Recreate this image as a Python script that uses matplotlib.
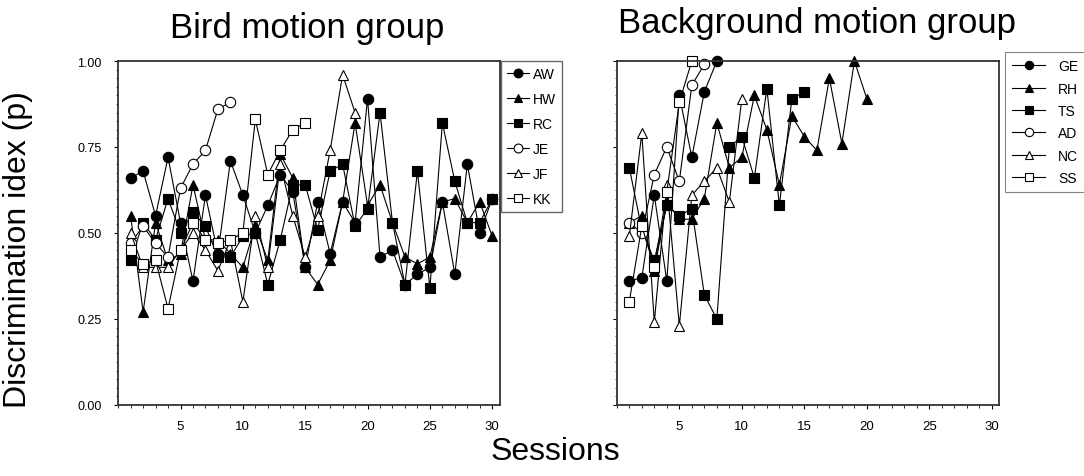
import matplotlib
matplotlib.use("Agg")
import matplotlib.pyplot as plt
from matplotlib.ticker import MultipleLocator

plt.rcParams['font.family'] = ['Liberation Sans', 'DejaVu Sans']

# Bird motion group (sessions 1..n)
aw = [0.66, 0.68, 0.55, 0.72, 0.53, 0.36, 0.61, 0.44, 0.71, 0.61, 0.50, 0.58, 0.67, 0.62, 0.40,
      0.59, 0.44, 0.59, 0.53, 0.89, 0.43, 0.45, 0.35, 0.38, 0.40, 0.59, 0.38, 0.70, 0.50, 0.60]
hw = [0.55, 0.27, 0.53, 0.42, 0.44, 0.64, 0.48, 0.48, 0.44, 0.40, 0.52, 0.42, 0.73, 0.66, 0.40,
      0.35, 0.42, 0.59, 0.82, 0.58, 0.64, 0.53, 0.43, 0.41, 0.43, 0.59, 0.60, 0.53, 0.59, 0.49]
rc = [0.42, 0.53, 0.48, 0.60, 0.50, 0.56, 0.52, 0.43, 0.43, 0.49, 0.50, 0.35, 0.48, 0.64, 0.64,
      0.51, 0.68, 0.70, 0.52, 0.57, 0.85, 0.53, 0.35, 0.68, 0.34, 0.82, 0.65, 0.53, 0.53, 0.60]
je = [0.47, 0.52, 0.47, 0.43, 0.63, 0.70, 0.74, 0.86, 0.88]
jf = [0.50, 0.40, 0.40, 0.40, 0.45, 0.50, 0.45, 0.39, 0.48, 0.30, 0.55, 0.40, 0.70, 0.55, 0.43,
      0.55, 0.74, 0.96, 0.85]
kk = [0.45, 0.41, 0.42, 0.28, 0.45, 0.53, 0.48, 0.47, 0.48, 0.50, 0.83, 0.67, 0.74, 0.80, 0.82]

# Background motion group
ge = [0.36, 0.37, 0.61, 0.36, 0.90, 0.72, 0.91, 1.00]
rh = [0.53, 0.55, 0.39, 0.59, 0.54, 0.54, 0.60, 0.82, 0.69, 0.72, 0.90, 0.80, 0.64, 0.84, 0.78,
      0.74, 0.95, 0.76, 1.00, 0.89]
ts = [0.69, 0.51, 0.42, 0.58, 0.55, 0.57, 0.32, 0.25, 0.75, 0.78, 0.66, 0.92, 0.58, 0.89, 0.91]
ad = [0.53, 0.50, 0.67, 0.75, 0.65, 0.93, 0.99]
nc = [0.49, 0.79, 0.24, 0.64, 0.23, 0.61, 0.65, 0.69, 0.59, 0.89]
ss = [0.30, 0.52, 0.40, 0.62, 0.88, 1.00]

y_ticks = [0.0, 0.25, 0.5, 0.75, 1.0]
y_ticklabels = ["0.00", "0.25", "0.50", "0.75", "1.00"]
x_ticks = [5, 10, 15, 20, 25, 30]

bird = [("AW", aw, "o", "black"), ("HW", hw, "^", "black"), ("RC", rc, "s", "black"),
        ("JE", je, "o", "white"), ("JF", jf, "^", "white"), ("KK", kk, "s", "white")]
back = [("GE", ge, "o", "black"), ("RH", rh, "^", "black"), ("TS", ts, "s", "black"),
        ("AD", ad, "o", "white"), ("NC", nc, "^", "white"), ("SS", ss, "s", "white")]

fig = plt.figure(figsize=(10.84, 4.77), dpi=100)
ax1 = fig.add_axes([0.109, 0.149, 0.352, 0.721])
ax2 = fig.add_axes([0.569, 0.149, 0.353, 0.721])


def draw(ax, groups, ylabels):
    for name, vals, mk, fc in groups:
        x = list(range(1, len(vals) + 1))
        ax.plot(x, vals, color="black", lw=0.8, marker=mk, markersize=7.5,
                markerfacecolor=fc, markeredgecolor="black", markeredgewidth=0.8,
                label=name, clip_on=False)
    ax.set_xlim(0, 30.6)
    ax.set_ylim(0, 1.0)
    ax.set_xticks(x_ticks)
    ax.xaxis.set_minor_locator(MultipleLocator(1))
    ax.set_yticks(y_ticks)
    ax.yaxis.set_minor_locator(MultipleLocator(0.025))
    ax.tick_params(axis="x", which="major", labelsize=9.5, length=3, width=0.8, pad=8)
    ax.tick_params(axis="x", which="minor", length=2, width=0.6)
    ax.tick_params(axis="y", which="major", labelsize=9, length=3, width=0.8, pad=9)
    ax.tick_params(axis="y", which="minor", length=1.5, width=0.5)
    if ylabels:
        ax.set_yticklabels(y_ticklabels)
    else:
        ax.set_yticklabels([])
    for sp in ax.spines.values():
        sp.set_color("#333333")
        sp.set_linewidth(1.3)


draw(ax1, bird, True)
draw(ax2, back, False)

leg1 = ax1.legend(loc="upper left", bbox_to_anchor=(1.004, 1.0), borderaxespad=0,
                  fancybox=False, edgecolor="#444444", fontsize=10, handlelength=1.6,
                  handletextpad=0.3, labelspacing=0.8, borderpad=0.4, markerscale=0.85)
leg1.get_frame().set_linewidth(1.0)
leg2 = ax2.legend(loc="upper left", bbox_to_anchor=(1.015, 1.025), borderaxespad=0,
                  fancybox=False, edgecolor="#666666", fontsize=10, handlelength=2.4,
                  handletextpad=0.9, labelspacing=0.6, borderpad=0.5, markerscale=0.8)
leg2.get_frame().set_linewidth(0.8)

fig.text(0.283, 0.920, "Bird motion group", fontsize=25, ha="center", va="baseline")
fig.text(0.570, 0.931, "Background motion group", fontsize=25, ha="left", va="baseline")
fig.text(0.017, 0.476, "Discrimination idex (p)", rotation=90, fontsize=23,
         ha="center", va="center")
fig.text(0.512, 0.052, "Sessions", fontsize=23, ha="center", va="center")

fig.savefig("out.png", dpi=100)
